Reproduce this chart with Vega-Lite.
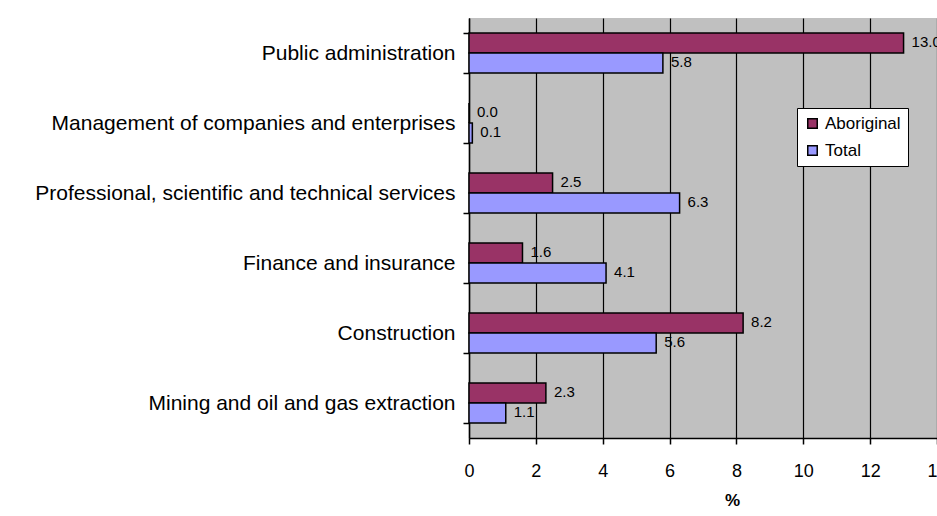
{
  "$schema": "https://vega.github.io/schema/vega-lite/v6.json",
  "width": 468,
  "height": 420,
  "autosize": {"type": "none"},
  "padding": {"left": 469, "top": 18, "right": 0, "bottom": 78},
  "background": "white",
  "config": {
    "font": "Liberation Sans",
    "view": {"fill": "#C0C0C0", "stroke": null},
    "axis": {"labelColor": "black", "titleColor": "black", "domainColor": "black", "tickColor": "black", "domainWidth": 1.5, "tickWidth": 1.5}
  },
  "data": {
    "values": [
      {"industry": "Public administration", "series": "Aboriginal", "value": 13.0},
      {"industry": "Public administration", "series": "Total", "value": 5.8},
      {"industry": "Management of companies and enterprises", "series": "Aboriginal", "value": 0.0},
      {"industry": "Management of companies and enterprises", "series": "Total", "value": 0.1},
      {"industry": "Professional, scientific and technical services", "series": "Aboriginal", "value": 2.5},
      {"industry": "Professional, scientific and technical services", "series": "Total", "value": 6.3},
      {"industry": "Finance and insurance", "series": "Aboriginal", "value": 1.6},
      {"industry": "Finance and insurance", "series": "Total", "value": 4.1},
      {"industry": "Construction", "series": "Aboriginal", "value": 8.2},
      {"industry": "Construction", "series": "Total", "value": 5.6},
      {"industry": "Mining and oil and gas extraction", "series": "Aboriginal", "value": 2.3},
      {"industry": "Mining and oil and gas extraction", "series": "Total", "value": 1.1}
    ]
  },
  "encoding": {
    "y": {
      "field": "industry", "type": "nominal", "sort": null,
      "scale": {"paddingInner": 0.4286, "paddingOuter": 0.2143},
      "axis": {"title": null, "labelFontSize": 21, "labelPadding": 8, "tickSize": 6, "tickBand": "extent", "labelLimit": 500}
    },
    "yOffset": {"field": "series", "type": "nominal", "sort": ["Aboriginal", "Total"], "scale": {"paddingInner": 0, "paddingOuter": 0}},
    "x": {
      "field": "value", "type": "quantitative",
      "scale": {"domain": [0, 14], "nice": false},
      "axis": {"title": "%", "titleFontSize": 17, "titleFontWeight": "bold", "titleX": 263, "titlePadding": 12, "values": [0, 2, 4, 6, 8, 10, 12, 14], "labelFontSize": 18, "labelPadding": 18, "tickSize": 6, "grid": true, "gridColor": "black", "gridOpacity": 1, "gridWidth": 1.2, "labelFlush": false}
    }
  },
  "layer": [
    {
      "mark": {"type": "bar", "stroke": "black", "strokeWidth": 1.5},
      "encoding": {
        "color": {
          "field": "series", "type": "nominal",
          "scale": {"domain": ["Aboriginal", "Total"], "range": ["#993366", "#9999FF"]},
          "legend": {"title": null, "orient": "none", "legendX": 328, "legendY": 90, "fillColor": "white", "strokeColor": "black", "padding": 7, "symbolType": "square", "symbolSize": 90, "symbolStrokeColor": "black", "symbolStrokeWidth": 1.5, "labelFontSize": 17, "labelColor": "black", "rowPadding": 9}
        }
      }
    },
    {
      "mark": {"type": "text", "align": "left", "baseline": "middle", "dx": 8, "dy": -1, "fontSize": 15, "color": "black"},
      "encoding": {
        "text": {"field": "value", "type": "quantitative", "format": ".1f"}
      }
    }
  ]
}
